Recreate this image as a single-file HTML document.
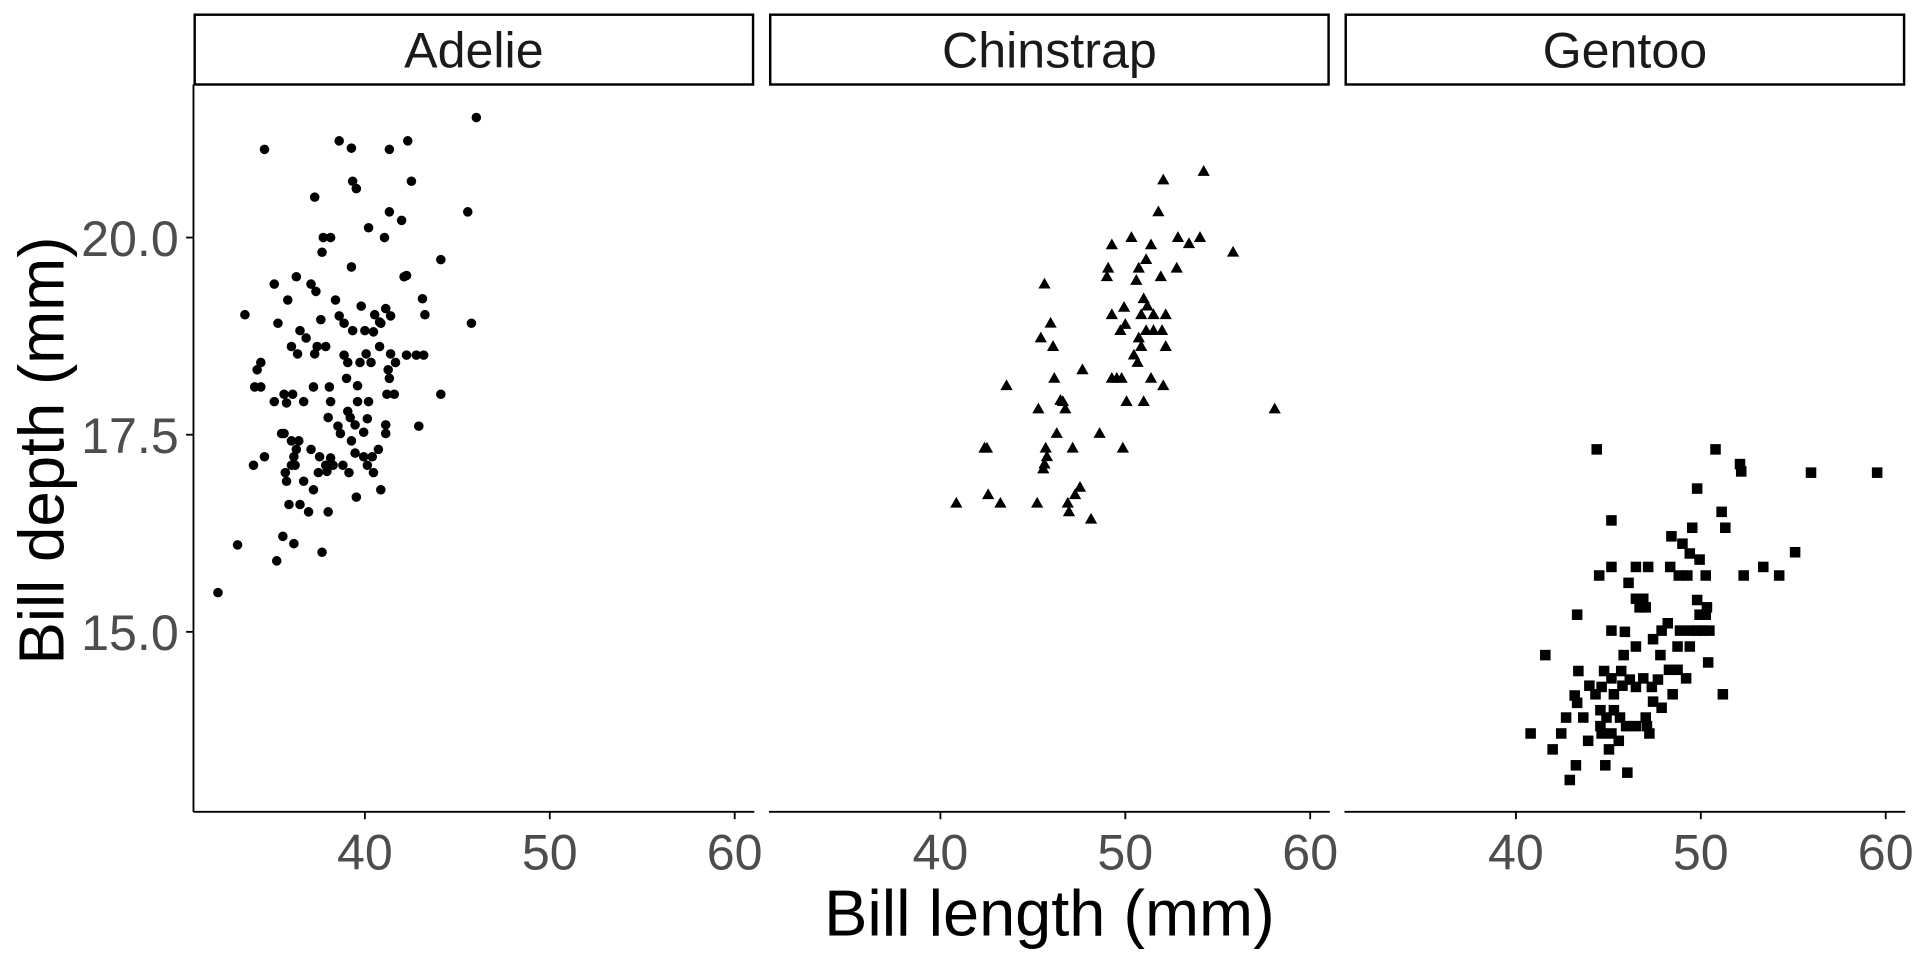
<!DOCTYPE html>
<html><head><meta charset="utf-8"><style>html,body{margin:0;padding:0;background:#fff}svg{display:block}</style></head>
<body>
<svg width="1920" height="960" viewBox="0 0 1568 784" xmlns="http://www.w3.org/2000/svg" font-family="Liberation Sans, Arial, sans-serif">
<defs>
<circle id="c" r="3.9" fill="#000"/>
<path id="t" d="M0,-5.2 L5,3.6 L-5,3.6Z" fill="#000"/>
<rect id="s" x="-4.3" y="-4.3" width="8.6" height="8.6" fill="#000"/>
</defs>
<rect width="1568" height="784" fill="#fff"/>
<g fill="#fff" stroke="#000" stroke-width="2">
<rect x="159" y="12" width="456" height="57"/>
<rect x="629" y="12" width="456" height="57"/>
<rect x="1099" y="12" width="456" height="57"/>
</g>
<g font-size="41" text-anchor="middle" fill="#1a1a1a">
<text x="387" y="55">Adelie</text>
<text x="857" y="55">Chinstrap</text>
<text x="1327" y="55">Gentoo</text>
</g>
<g stroke="#000" stroke-width="1.5" fill="none">
<line x1="158" y1="69" x2="158" y2="663"/>
<line x1="158" y1="663" x2="616" y2="663"/>
<line x1="628" y1="663" x2="1086" y2="663"/>
<line x1="1098" y1="663" x2="1556" y2="663"/>
<line x1="152" y1="194" x2="158" y2="194"/><line x1="152" y1="355" x2="158" y2="355"/><line x1="152" y1="516" x2="158" y2="516"/>
<line x1="298" y1="663" x2="298" y2="669"/><line x1="449" y1="663" x2="449" y2="669"/><line x1="600" y1="663" x2="600" y2="669"/>
<line x1="768" y1="663" x2="768" y2="669"/><line x1="919" y1="663" x2="919" y2="669"/><line x1="1070" y1="663" x2="1070" y2="669"/>
<line x1="1238" y1="663" x2="1238" y2="669"/><line x1="1389" y1="663" x2="1389" y2="669"/><line x1="1540" y1="663" x2="1540" y2="669"/>
</g>
<g font-size="41" fill="#4d4d4d">
<g text-anchor="end"><text x="146" y="209">20.0</text><text x="146" y="370">17.5</text><text x="146" y="531">15.0</text></g>
<g text-anchor="middle">
<text x="298" y="710">40</text><text x="449" y="710">50</text><text x="600" y="710">60</text>
<text x="768" y="710">40</text><text x="919" y="710">50</text><text x="1070" y="710">60</text>
<text x="1238" y="710">40</text><text x="1389" y="710">50</text><text x="1540" y="710">60</text>
</g></g>
<text x="857" y="764" font-size="53" text-anchor="middle" fill="#000">Bill length (mm)</text>
<text transform="translate(52,368) rotate(-90)" font-size="52" text-anchor="middle" fill="#000">Bill depth (mm)</text>
<g>
<use href="#c" x="178" y="484"/><use href="#c" x="194" y="445"/><use href="#c" x="226" y="458"/><use href="#c" x="216" y="122"/><use href="#c" x="277" y="115"/><use href="#c" x="287" y="121"/><use href="#c" x="318" y="122"/><use href="#c" x="333" y="115"/><use href="#c" x="389" y="96"/><use href="#c" x="291" y="154"/><use href="#c" x="288" y="148"/><use href="#c" x="336" y="148"/><use href="#c" x="257" y="161"/><use href="#c" x="318" y="173"/><use href="#c" x="328" y="180"/><use href="#c" x="382" y="173"/><use href="#c" x="301" y="186"/><use href="#c" x="314" y="194"/><use href="#c" x="264" y="194"/><use href="#c" x="270" y="194"/><use href="#c" x="263" y="206"/><use href="#c" x="287" y="218"/><use href="#c" x="360" y="212"/><use href="#c" x="224" y="232"/><use href="#c" x="242" y="226"/><use href="#c" x="330" y="226"/><use href="#c" x="332" y="225"/><use href="#c" x="254" y="232"/><use href="#c" x="258" y="238"/><use href="#c" x="235" y="245"/><use href="#c" x="274" y="245"/><use href="#c" x="200" y="257"/><use href="#c" x="227" y="264"/><use href="#c" x="245" y="270"/><use href="#c" x="262" y="261"/><use href="#c" x="277" y="258"/><use href="#c" x="295" y="250"/><use href="#c" x="306" y="257"/><use href="#c" x="315" y="252"/><use href="#c" x="281" y="264"/><use href="#c" x="298" y="270"/><use href="#c" x="311" y="264"/><use href="#c" x="319" y="258"/><use href="#c" x="345" y="244"/><use href="#c" x="347" y="257"/><use href="#c" x="385" y="264"/><use href="#c" x="288" y="270"/><use href="#c" x="305" y="271"/><use href="#c" x="310" y="263"/><use href="#c" x="250" y="276"/><use href="#c" x="266" y="283"/><use href="#c" x="238" y="283"/><use href="#c" x="243" y="289"/><use href="#c" x="281" y="290"/><use href="#c" x="299" y="289"/><use href="#c" x="213" y="296"/><use href="#c" x="210" y="302"/><use href="#c" x="257" y="289"/><use href="#c" x="259" y="283"/><use href="#c" x="294" y="296"/><use href="#c" x="319" y="289"/><use href="#c" x="310" y="283"/><use href="#c" x="332" y="290"/><use href="#c" x="340" y="290"/><use href="#c" x="346" y="290"/><use href="#c" x="284" y="296"/><use href="#c" x="303" y="296"/><use href="#c" x="317" y="302"/><use href="#c" x="323" y="296"/><use href="#c" x="208" y="316"/><use href="#c" x="213" y="316"/><use href="#c" x="256" y="316"/><use href="#c" x="269" y="316"/><use href="#c" x="292" y="315"/><use href="#c" x="318" y="309"/><use href="#c" x="316" y="322"/><use href="#c" x="322" y="322"/><use href="#c" x="360" y="322"/><use href="#c" x="283" y="309"/><use href="#c" x="232" y="322"/><use href="#c" x="239" y="322"/><use href="#c" x="224" y="328"/><use href="#c" x="234" y="329"/><use href="#c" x="248" y="328"/><use href="#c" x="270" y="328"/><use href="#c" x="284" y="336"/><use href="#c" x="292" y="328"/><use href="#c" x="301" y="328"/><use href="#c" x="268" y="341"/><use href="#c" x="286" y="341"/><use href="#c" x="300" y="342"/><use href="#c" x="232" y="354"/><use href="#c" x="230" y="354"/><use href="#c" x="238" y="360"/><use href="#c" x="244" y="360"/><use href="#c" x="278" y="354"/><use href="#c" x="276" y="348"/><use href="#c" x="290" y="347"/><use href="#c" x="297" y="353"/><use href="#c" x="315" y="347"/><use href="#c" x="315" y="354"/><use href="#c" x="342" y="348"/><use href="#c" x="287" y="360"/><use href="#c" x="207" y="380"/><use href="#c" x="216" y="373"/><use href="#c" x="240" y="373"/><use href="#c" x="242" y="367"/><use href="#c" x="254" y="367"/><use href="#c" x="270" y="374"/><use href="#c" x="261" y="373"/><use href="#c" x="297" y="373"/><use href="#c" x="304" y="373"/><use href="#c" x="309" y="367"/><use href="#c" x="233" y="386"/><use href="#c" x="238" y="380"/><use href="#c" x="234" y="393"/><use href="#c" x="241" y="380"/><use href="#c" x="266" y="380"/><use href="#c" x="267" y="385"/><use href="#c" x="272" y="380"/><use href="#c" x="280" y="380"/><use href="#c" x="285" y="386"/><use href="#c" x="290" y="370"/><use href="#c" x="300" y="380"/><use href="#c" x="305" y="386"/><use href="#c" x="248" y="393"/><use href="#c" x="260" y="386"/><use href="#c" x="256" y="400"/><use href="#c" x="236" y="412"/><use href="#c" x="245" y="412"/><use href="#c" x="252" y="418"/><use href="#c" x="268" y="418"/><use href="#c" x="311" y="400"/><use href="#c" x="291" y="406"/><use href="#c" x="231" y="438"/><use href="#c" x="240" y="444"/><use href="#c" x="263" y="451"/>
</g>
<g>
<use href="#t" x="781" y="411"/><use href="#t" x="807" y="404"/><use href="#t" x="817" y="411"/><use href="#t" x="847" y="411"/><use href="#t" x="872" y="411"/><use href="#t" x="878" y="404"/><use href="#t" x="873" y="418"/><use href="#t" x="891" y="424"/><use href="#t" x="882" y="398"/><use href="#t" x="806" y="366"/><use href="#t" x="804" y="366"/><use href="#t" x="854" y="366"/><use href="#t" x="863" y="354"/><use href="#t" x="876" y="366"/><use href="#t" x="917" y="366"/><use href="#t" x="898" y="354"/><use href="#t" x="852" y="383"/><use href="#t" x="853" y="379"/><use href="#t" x="855" y="373"/><use href="#t" x="848" y="334"/><use href="#t" x="861" y="309"/><use href="#t" x="868" y="328"/><use href="#t" x="866" y="327"/><use href="#t" x="870" y="334"/><use href="#t" x="884" y="302"/><use href="#t" x="822" y="315"/><use href="#t" x="908" y="309"/><use href="#t" x="912" y="309"/><use href="#t" x="916" y="309"/><use href="#t" x="940" y="309"/><use href="#t" x="950" y="315"/><use href="#t" x="920" y="328"/><use href="#t" x="934" y="328"/><use href="#t" x="850" y="276"/><use href="#t" x="858" y="264"/><use href="#t" x="860" y="283"/><use href="#t" x="853" y="232"/><use href="#t" x="908" y="257"/><use href="#t" x="915" y="270"/><use href="#t" x="919" y="265"/><use href="#t" x="930" y="276"/><use href="#t" x="936" y="270"/><use href="#t" x="926" y="290"/><use href="#t" x="932" y="283"/><use href="#t" x="929" y="296"/><use href="#t" x="942" y="270"/><use href="#t" x="942" y="257"/><use href="#t" x="952" y="257"/><use href="#t" x="934" y="244"/><use href="#t" x="937" y="250"/><use href="#t" x="932" y="257"/><use href="#t" x="949" y="270"/><use href="#t" x="952" y="283"/><use href="#t" x="918" y="251"/><use href="#t" x="904" y="226"/><use href="#t" x="905" y="219"/><use href="#t" x="928" y="229"/><use href="#t" x="930" y="219"/><use href="#t" x="948" y="226"/><use href="#t" x="936" y="212"/><use href="#t" x="961" y="219"/><use href="#t" x="908" y="200"/><use href="#t" x="924" y="194"/><use href="#t" x="940" y="200"/><use href="#t" x="962" y="194"/><use href="#t" x="971" y="199"/><use href="#t" x="980" y="194"/><use href="#t" x="946" y="173"/><use href="#t" x="1007" y="206"/><use href="#t" x="950" y="147"/><use href="#t" x="983" y="140"/><use href="#t" x="1041" y="334"/>
</g>
<g>
<use href="#s" x="1304" y="367"/><use href="#s" x="1401" y="367"/><use href="#s" x="1421" y="379"/><use href="#s" x="1422" y="385"/><use href="#s" x="1479" y="386"/><use href="#s" x="1533" y="386"/><use href="#s" x="1386" y="399"/><use href="#s" x="1316" y="425"/><use href="#s" x="1406" y="418"/><use href="#s" x="1409" y="431"/><use href="#s" x="1365" y="438"/><use href="#s" x="1382" y="431"/><use href="#s" x="1374" y="444"/><use href="#s" x="1380" y="452"/><use href="#s" x="1388" y="457"/><use href="#s" x="1466" y="451"/><use href="#s" x="1306" y="470"/><use href="#s" x="1316" y="463"/><use href="#s" x="1336" y="463"/><use href="#s" x="1330" y="476"/><use href="#s" x="1346" y="463"/><use href="#s" x="1364" y="463"/><use href="#s" x="1371" y="470"/><use href="#s" x="1378" y="470"/><use href="#s" x="1393" y="470"/><use href="#s" x="1342" y="489"/><use href="#s" x="1344" y="496"/><use href="#s" x="1336" y="489"/><use href="#s" x="1339" y="496"/><use href="#s" x="1424" y="470"/><use href="#s" x="1440" y="463"/><use href="#s" x="1453" y="470"/><use href="#s" x="1386" y="490"/><use href="#s" x="1394" y="496"/><use href="#s" x="1388" y="502"/><use href="#s" x="1393" y="502"/><use href="#s" x="1362" y="509"/><use href="#s" x="1380" y="515"/><use href="#s" x="1386" y="515"/><use href="#s" x="1390" y="515"/><use href="#s" x="1396" y="515"/><use href="#s" x="1372" y="515"/><use href="#s" x="1357" y="515"/><use href="#s" x="1288" y="502"/><use href="#s" x="1316" y="515"/><use href="#s" x="1336" y="528"/><use href="#s" x="1350" y="522"/><use href="#s" x="1356" y="535"/><use href="#s" x="1370" y="528"/><use href="#s" x="1380" y="528"/><use href="#s" x="1327" y="516"/><use href="#s" x="1326" y="535"/><use href="#s" x="1262" y="535"/><use href="#s" x="1289" y="548"/><use href="#s" x="1310" y="548"/><use href="#s" x="1324" y="548"/><use href="#s" x="1342" y="554"/><use href="#s" x="1363" y="547"/><use href="#s" x="1377" y="554"/><use href="#s" x="1308" y="561"/><use href="#s" x="1316" y="554"/><use href="#s" x="1298" y="560"/><use href="#s" x="1325" y="560"/><use href="#s" x="1336" y="561"/><use href="#s" x="1370" y="547"/><use href="#s" x="1286" y="568"/><use href="#s" x="1303" y="567"/><use href="#s" x="1288" y="574"/><use href="#s" x="1350" y="573"/><use href="#s" x="1366" y="567"/><use href="#s" x="1318" y="567"/><use href="#s" x="1318" y="580"/><use href="#s" x="1307" y="580"/><use href="#s" x="1293" y="586"/><use href="#s" x="1323" y="586"/><use href="#s" x="1344" y="586"/><use href="#s" x="1328" y="593"/><use href="#s" x="1336" y="593"/><use href="#s" x="1279" y="586"/><use href="#s" x="1308" y="599"/><use href="#s" x="1316" y="599"/><use href="#s" x="1347" y="599"/><use href="#s" x="1250" y="599"/><use href="#s" x="1275" y="599"/><use href="#s" x="1322" y="605"/><use href="#s" x="1297" y="605"/><use href="#s" x="1314" y="612"/><use href="#s" x="1268" y="612"/><use href="#s" x="1287" y="625"/><use href="#s" x="1311" y="625"/><use href="#s" x="1282" y="637"/><use href="#s" x="1329" y="631"/><use href="#s" x="1307" y="593"/><use href="#s" x="1395" y="541"/><use href="#s" x="1407" y="567"/><use href="#s" x="1331" y="555"/><use href="#s" x="1312" y="586"/><use href="#s" x="1354" y="555"/><use href="#s" x="1349" y="561"/><use href="#s" x="1357" y="578"/><use href="#s" x="1345" y="593"/>
</g>
</svg>
</body></html>
